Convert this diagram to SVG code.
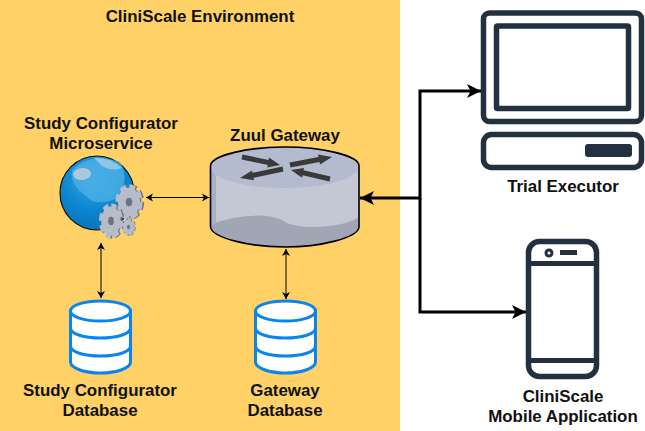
<svg xmlns="http://www.w3.org/2000/svg" width="645" height="431" viewBox="0 0 645 431">
<defs>
<style>
.t{font-family:"Liberation Sans",Arial,sans-serif;font-weight:bold;font-size:16.900px;fill:#111;text-anchor:middle}
.c{fill:none;stroke:#000;stroke-width:1}
.k{fill:none;stroke:#000;stroke-width:3}
.d{fill:#fff;stroke:#0a84ee;stroke-width:3}
.n{fill:none;stroke:#0a84ee;stroke-width:3}
.i{fill:#fff;stroke:#23303f;stroke-width:5.5}
.a{fill:#3a3a3a}
</style>
<marker id="s" markerUnits="userSpaceOnUse" markerWidth="8" markerHeight="10" refX="7" refY="4" orient="auto-start-reverse" viewBox="0 0 8 8"><path d="M0 0L7 4L0 8L2 4Z" fill="#000"/></marker>
<marker id="b" markerUnits="userSpaceOnUse" markerWidth="16" markerHeight="14" refX="14" refY="7" orient="auto-start-reverse" viewBox="0 0 16 14"><path d="M0 0L14 7L0 14L3.500 7Z" fill="#000"/></marker>
<radialGradient id="g" cx=".45" cy=".3" r=".8"><stop offset="0" stop-color="#3fa8e2"/><stop offset=".55" stop-color="#0a86cf"/><stop offset="1" stop-color="#0a6fb0"/></radialGradient>
<g id="gear">
<circle cx="1.200" r="9" fill="none" stroke="#6d7480" stroke-width="3" stroke-dasharray="4.400 2.670"/>
<circle cx="1" r="8.500" fill="#6d7480"/>
<circle r="9" fill="none" stroke="#b7bccb" stroke-width="3" stroke-dasharray="4.400 2.670"/>
<circle r="8.500" fill="#b7bccb"/>
<circle r="2.500" fill="#6d7480"/>
</g>
</defs>
<rect id="environment" x="0" y="0" width="400" height="431" fill="#ffd166"/>
<text class="t" x="200" y="22">CliniScale Environment</text>
<g id="connectors">
<path class="c" d="M146 197.500H209" marker-start="url(#s)" marker-end="url(#s)"/>
<path class="c" d="M101 243V298" marker-start="url(#s)" marker-end="url(#s)"/>
<path class="c" d="M286 249V299" marker-start="url(#s)" marker-end="url(#s)"/>
<path class="k" d="M360 198H420V91H481" marker-start="url(#b)" marker-end="url(#b)"/>
<path class="k" d="M420 198V312H526" marker-end="url(#b)"/>
</g>
<g id="configurator">
<circle cx="97" cy="193" r="37" fill="url(#g)" stroke="#111" stroke-width="1.200"/>
<path d="M72 170Q90 152 120 162Q130 180 118 198Q95 208 85 195Q70 185 72 170Z" fill="#4fb0e4" opacity=".75"/>
<ellipse cx="82" cy="174" rx="9" ry="6" fill="#a9c9dc" transform="rotate(-5 82 174)"/>
<path d="M94 158Q108 156 122 168Q112 172 102 166Z" fill="#8dc6e6"/>
<use href="#gear" transform="translate(129 202) scale(1.300 1.700)"/>
<use href="#gear" transform="translate(111 221) scale(1.150 1.700)"/>
<use href="#gear" transform="translate(128.500 227) scale(.62 .88)"/>
<text class="t" x="101" y="128.500">Study Configurator</text>
<text class="t" x="101" y="149">Microservice</text>
</g>
<g id="gateway">
<path d="M210.500 166V227C212 238 250 247 285 247C320 247 358 238 359 227V166Z" fill="#c4c8d4"/>
<path d="M211 227V166L216 176V222Z" fill="#a8aebd"/>
<path d="M211 225L216 222.500C238 215 270 212 285 222C300 230 340 228 358 218V227C358 238 320 247 285 247C250 247 212 238 211 227Z" fill="#a0a6b4"/>
<ellipse cx="284.500" cy="167" rx="74" ry="21" fill="#b5bbce"/>
<path d="M210.500 166C210.500 155 250 147 284.500 147C320 147 359 155 359 166V227C358 238 320 247 285 247C250 247 212 238 210.500 227Z" fill="none" stroke="#000" stroke-width="1.600"/>
<polygon class="a" points="242.500,154.500 268.500,160 269,157.600 280,165 267,167.400 268,165 241.500,159.500"/>
<polygon class="a" points="289.500,162.500 318.500,157 318,154.600 332,157 320,164.400 319.500,162 290.500,167.500"/>
<polygon class="a" points="282.500,166.500 252.500,172.800 252,170.400 240,178 254,180.200 253.500,177.800 283.500,171.500"/>
<polygon class="a" points="330.500,176.500 303.500,170.300 304,167.900 291,170 302,177.700 302.500,175.300 329.500,181.500"/>
<text class="t" x="285" y="141">Zuul Gateway</text>
</g>
<g id="configurator-db">
<path class="d" d="M70.500 311V362C70.500 368 84 373 100.500 373C117 373 130.500 368 130.500 362V311"/>
<ellipse class="d" cx="100.500" cy="311" rx="30" ry="10"/>
<path class="n" d="M70.500 328C70.500 334 84 338 100.500 338C117 338 130.500 334 130.500 328M70.500 346C70.500 352 84 356 100.500 356C117 356 130.500 352 130.500 346"/>
<text class="t" x="100" y="396">Study Configurator</text>
<text class="t" x="100" y="416">Database</text>
</g>
<g id="gateway-db">
<path class="d" d="M255.500 311V362C255.500 368 269 373 285.500 373C302 373 315.500 368 315.500 362V311"/>
<ellipse class="d" cx="285.500" cy="311" rx="30" ry="10"/>
<path class="n" d="M255.500 328C255.500 334 269 338 285.500 338C302 338 315.500 334 315.500 328M255.500 346C255.500 352 269 356 285.500 356C302 356 315.500 352 315.500 346"/>
<text class="t" x="285" y="396">Gateway</text>
<text class="t" x="285" y="416">Database</text>
</g>
<g id="trial-executor">
<rect class="i" x="483.500" y="13" width="158" height="108.500" rx="6"/>
<rect class="i" x="496.500" y="26" width="132" height="82.500" rx="1"/>
<rect class="i" x="483.500" y="134.500" width="158" height="33" rx="8"/>
<rect x="585" y="144" width="47" height="13" rx="3" fill="#23303f"/>
<text class="t" x="563" y="192">Trial Executor</text>
</g>
<g id="mobile-app">
<rect class="i" x="528.500" y="241.500" width="68" height="135" rx="11"/>
<path d="M528 263.500H597M528 360.500H597" fill="none" stroke="#23303f" stroke-width="5"/>
<circle cx="549" cy="253" r="3" fill="#fff" stroke="#23303f" stroke-width="3"/>
<rect x="560" y="250" width="17" height="5" fill="#23303f"/>
<text class="t" x="563" y="401.500">CliniScale</text>
<text class="t" x="563" y="421.500">Mobile Application</text>
</g>
</svg>
